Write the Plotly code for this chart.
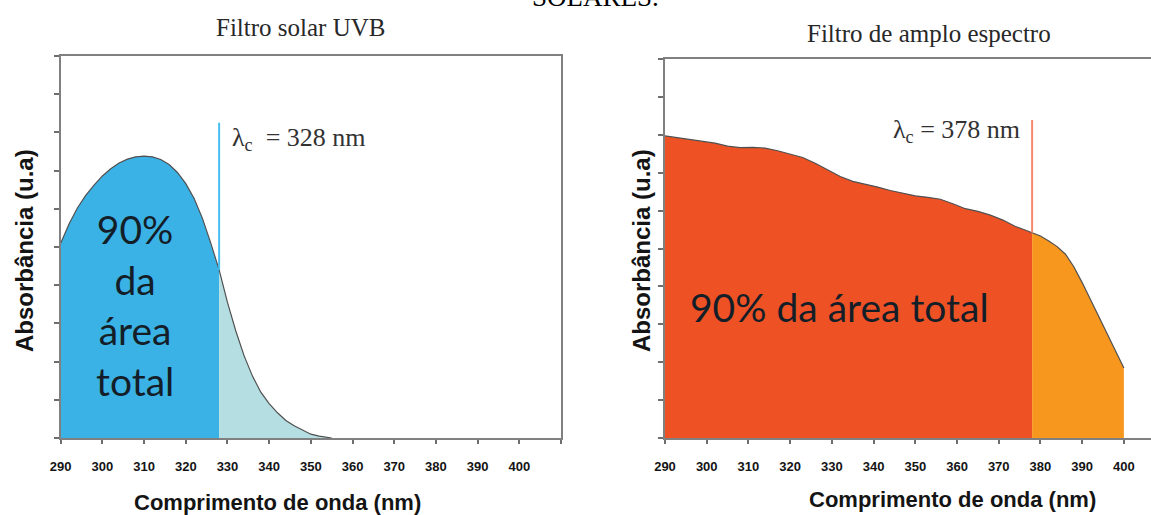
import numpy as np
import plotly.graph_objects as go

W, H = 1151, 515

# ---- data: absorbance spectra (arbitrary units) ----
wl_uvb = [290, 292, 294, 296, 298, 300, 302, 304, 306, 308, 310, 312, 314, 316, 318,
          320, 322, 324, 326, 328, 330, 332, 334, 336, 338, 340, 342, 344, 346, 348,
          350, 352, 354, 355]
abs_uvb = [5.10, 5.60, 6.02, 6.35, 6.62, 6.86, 7.05, 7.20, 7.30, 7.36, 7.38, 7.36, 7.29,
           7.16, 6.95, 6.66, 6.27, 5.75, 5.10, 4.40, 3.55, 2.80, 2.15, 1.62, 1.20, 0.90,
           0.66, 0.46, 0.32, 0.20, 0.10, 0.05, 0.02, 0.0]
cut_uvb = 328

wl_broad = [290, 293, 296, 299, 302, 305, 308, 311, 314, 317, 320, 323, 326, 329, 332,
            335, 338, 341, 344, 347, 350, 353, 356, 359, 362, 365, 368, 371, 374, 376,
            378, 380, 382, 384, 386, 388, 390, 392, 394, 396, 398, 400]
abs_broad = [7.97, 7.92, 7.86, 7.82, 7.78, 7.70, 7.66, 7.67, 7.65, 7.58, 7.50, 7.40, 7.25,
             7.08, 6.90, 6.77, 6.70, 6.62, 6.53, 6.45, 6.39, 6.35, 6.30, 6.18, 6.05, 5.98,
             5.88, 5.75, 5.58, 5.50, 5.42, 5.33, 5.20, 5.05, 4.85, 4.52, 4.10, 3.65, 3.18,
             2.72, 2.30, 1.85]
cut_broad = 378

x_ticks = list(range(290, 411, 10))
x_ticktext = [str(v) if v <= 400 else "" for v in x_ticks]
y_ticks = list(range(0, 11))


def px(x):
    return x / W


def py(y):
    return 1 - y / H


def split(xs, ys, cut):
    xs, ys = np.asarray(xs, float), np.asarray(ys, float)
    lo = xs <= cut
    hi = xs >= cut
    return (xs[lo], ys[lo]), (xs[hi], ys[hi])


fig = go.Figure()

panels = [
    dict(x=wl_uvb, y=abs_uvb, cut=cut_uvb, xa="x", ya="y",
         c_in="rgb(59,178,230)", c_out="rgb(180,222,225)", c_line="rgb(70,190,240)",
         line_top=8.25),
    dict(x=wl_broad, y=abs_broad, cut=cut_broad, xa="x2", ya="y2",
         c_in="rgb(238,82,36)", c_out="rgb(247,151,30)", c_line="rgb(245,135,110)",
         line_top=8.39),
]

for p in panels:
    (xa_, ya_), (xb_, yb_) = split(p["x"], p["y"], p["cut"])
    fig.add_trace(go.Scatter(x=xa_, y=ya_, mode="lines", fill="tozeroy",
                             fillcolor=p["c_in"], line=dict(width=0),
                             xaxis=p["xa"], yaxis=p["ya"], showlegend=False))
    fig.add_trace(go.Scatter(x=xb_, y=yb_, mode="lines", fill="tozeroy",
                             fillcolor=p["c_out"], line=dict(width=0),
                             xaxis=p["xa"], yaxis=p["ya"], showlegend=False))
    fig.add_trace(go.Scatter(x=p["x"], y=p["y"], mode="lines",
                             line=dict(color="rgb(80,80,80)", width=1.2),
                             xaxis=p["xa"], yaxis=p["ya"], showlegend=False))
    # cutoff wavelength marker
    yc = float(np.interp(p["cut"], p["x"], p["y"]))
    fig.add_trace(go.Scatter(x=[p["cut"], p["cut"]], y=[yc, p["line_top"]], mode="lines",
                             line=dict(color=p["c_line"], width=2),
                             xaxis=p["xa"], yaxis=p["ya"], showlegend=False))

axis_common = dict(showline=True, mirror=True, linecolor="rgb(128,128,128)", linewidth=2,
                   showgrid=False, zeroline=False, ticks="outside", automargin=False,
                   tickcolor="rgb(110,110,110)", tickwidth=1.5)

xfont = dict(family="Liberation Sans Narrow, Arial Narrow, Liberation Sans, Arial",
             size=13, color="rgb(20,20,20)", weight="bold")

fig.update_layout(
    width=W, height=H,
    margin=dict(l=0, r=0, t=0, b=0, autoexpand=False),
    plot_bgcolor="white", paper_bgcolor="white",
    xaxis=dict(domain=[px(60.7), px(561)], range=[290, 410], tickvals=x_ticks,
               ticktext=x_ticktext, ticklen=4, tickfont=xfont, ticklabelstandoff=11,
               anchor="y", **axis_common),
    yaxis=dict(domain=[py(438), py(56)], range=[0, 10], tickvals=y_ticks,
               showticklabels=False, ticklen=5, anchor="x", **axis_common),
    xaxis2=dict(domain=[px(665), 1.0], range=[290, 406.5], tickvals=x_ticks[:-1],
                ticktext=x_ticktext[:-1], ticklen=4, tickfont=xfont, ticklabelstandoff=11,
                anchor="y2", **axis_common),
    yaxis2=dict(domain=[py(438), py(59)], range=[0, 10], tickvals=y_ticks,
                showticklabels=False, ticklen=5, anchor="x2", **axis_common),
)

serif = "Liberation Serif, Times New Roman, serif"
xtitle = dict(family="Liberation Sans, Arial", size=22, color="rgb(20,20,20)", weight="bold")
ytitle = dict(family="Liberation Sans, Arial", size=24, color="rgb(20,20,20)", weight="bold")
big = dict(family="Lato, Open Sans, sans-serif", size=39, color="rgb(20,30,40)")
head = dict(family=serif, size=25, color="rgb(40,40,40)")
lam = dict(family=serif, size=26, color="rgb(50,50,50)")

ann = [
    dict(x=px(595), y=py(-3), text="SOLARES.", font=dict(family=serif, size=27, color="black")),
    dict(x=px(300), y=py(27), text="Filtro solar UVB", font=head),
    dict(x=px(929), y=py(34), text="Filtro de amplo espectro", font=head),
    dict(x=px(277), y=py(502), text="Comprimento de onda (nm)", font=xtitle),
    dict(x=px(952), y=py(499), text="Comprimento de onda (nm)", font=xtitle),
    dict(x=px(24), y=py(251), text="Absorbância (u.a)", textangle=-90, font=ytitle),
    dict(x=px(641), y=py(251), text="Absorbância (u.a)", textangle=-90, font=ytitle),
    dict(x=px(230), y=py(139), xanchor="left", text="λ<sub>c</sub>  = 328 nm", font=lam),
    dict(x=px(1022), y=py(131), xanchor="right", text="λ<sub>c</sub> = 378 nm", font=lam),
    dict(x=px(135), y=py(305), text="90%<br>da<br>área<br>total", font=big),
    dict(x=px(839), y=py(307), text="90% da área total", font=big),
]
for a in ann:
    a.setdefault("xanchor", "center")
    a.setdefault("yanchor", "middle")
    fig.add_annotation(xref="paper", yref="paper", showarrow=False, **a)

fig.write_html("out.html")
